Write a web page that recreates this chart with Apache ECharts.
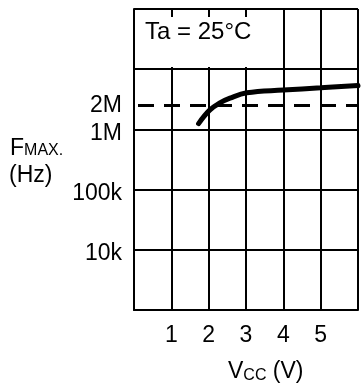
<!DOCTYPE html>
<html><head><meta charset="utf-8">
<script src="https://cdn.jsdelivr.net/npm/echarts@6/dist/echarts.min.js"></script>
<style>html,body{margin:0;padding:0;background:#fff}#c{width:361px;height:388px}</style>
</head><body><div id="c"></div>
<script>
// Data
const vccValues = [1.73, 2.02, 2.3, 2.57, 3.02, 4.0, 5.0, 6.0];
const fmaxValues = [1.25e6, 2.07e6, 2.75e6, 3.3e6, 4.05e6, 4.5e6, 4.9e6, 5.35e6];
const yTickLabels = { 1e4: '10k', 1e5: '100k', 1e6: '1M' };
const dashedLevel = 2.5e6;
const dashedLabel = '2M';
const xTickLabels = ['1', '2', '3', '4', '5'];

const font = 'Liberation Sans, Arial, sans-serif';
const chart = echarts.init(document.getElementById('c'), null, { renderer: 'canvas' });
chart.setOption({
  animation: false,
  backgroundColor: '#fff',
  grid: { left: 134, top: 9, bottom: 78, right: -13, containLabel: false },
  xAxis: {
    type: 'value', min: 0, max: 6, interval: 1,
    axisLine: { show: true, lineStyle: { color: '#000', width: 2 } },
    axisTick: { show: false },
    axisLabel: {
      margin: 14, fontSize: 23, color: '#000', fontFamily: font,
      formatter: v => (v >= 1 && v <= 5 ? xTickLabels[v - 1] : '')
    },
    splitLine: { show: true, lineStyle: { color: '#000', width: 2 } }
  },
  yAxis: {
    type: 'log', logBase: 10, min: 1e3, max: 1e8,
    axisLine: { show: true, lineStyle: { color: '#000', width: 2 } },
    axisTick: { show: false },
    axisLabel: {
      margin: 12, color: '#000', fontFamily: font,
      formatter: v => { const t = yTickLabels[Math.round(v)]; return t ? '{s|' + t + '}' : ''; },
      rich: { s: { fontSize: 23, fontFamily: font, color: '#000', padding: [8, 0, 0, 0] } }
    },
    splitLine: { show: true, lineStyle: { color: '#000', width: 2 } }
  },
  series: [{
    type: 'line',
    data: vccValues.map((v, i) => [v, fmaxValues[i]]),
    smooth: 0.4,
    symbol: 'none',
    lineStyle: { color: '#000', width: 5, cap: 'round' },
    z: 5,
    markLine: {
      silent: true, symbol: 'none',
      lineStyle: { color: '#000', width: 3, type: [16, 10], dashOffset: -4 },
      label: { show: true, position: 'start', distance: 12, formatter: dashedLabel, fontSize: 23, color: '#000', fontFamily: font },
      data: [{ yAxis: dashedLevel }]
    }
  }],
  graphic: [
    { type: 'rect', shape: { x: 136, y: 17, width: 122, height: 50 }, style: { fill: '#fff' }, z: 10 },
    { type: 'text', x: 145, y: 32, style: { text: 'Ta = 25°C', font: '24px ' + font, fill: '#000', textVerticalAlign: 'middle' }, z: 11 },
    { type: 'text', x: 10, y: 160, style: {
        text: '{a|F}{b|MAX.}', fill: '#000', textVerticalAlign: 'bottom',
        rich: { a: { fontSize: 23, fontFamily: font, color: '#000' }, b: { fontSize: 16, fontFamily: font, color: '#000', verticalAlign: 'bottom', padding: [0, 0, 1, 0] } }
      }, z: 11 },
    { type: 'text', x: 9, y: 176, style: { text: '(Hz)', font: '23px ' + font, fill: '#000', textVerticalAlign: 'middle' }, z: 11 },
    { type: 'text', x: 228, y: 372, style: {
        text: '{a|V}{b|CC}{a| (V)}', fill: '#000', textVerticalAlign: 'middle',
        rich: { a: { fontSize: 23, fontFamily: font, color: '#000' }, b: { fontSize: 16, fontFamily: font, color: '#000', verticalAlign: 'bottom', padding: [0, 0, 0, 0] } }
      }, z: 11 }
  ]
});
</script></body></html>
